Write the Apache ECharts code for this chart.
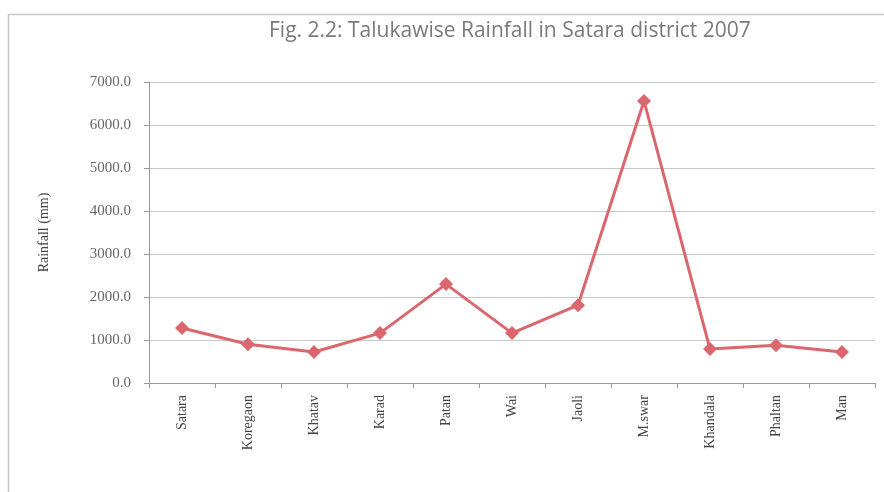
<!DOCTYPE html>
<html>
<head>
<meta charset="utf-8">
<script src="https://cdn.jsdelivr.net/npm/echarts@6/dist/echarts.min.js"></script>
<style>
  html, body { margin: 0; padding: 0; background: #fff; }
  #chart { width: 884px; height: 492px; }
</style>
</head>
<body>
<div id="chart"></div>
<script>
// 数据
var talukas = ['Satara', 'Koregaon', 'Khatav', 'Karad', 'Patan', 'Wai', 'Jaoli', 'M.swar', 'Khandala', 'Phaltan', 'Man'];
var rainfall = [1280, 900, 720, 1160, 2300, 1160, 1810, 6560, 790, 880, 720];

var myChart = echarts.init(document.getElementById('chart'));
var option = {
    animation: false,
    title: {
        text: 'Fig. 2.2: Talukawise Rainfall in Satara district 2007',
        left: 264,
        top: 16,
        textStyle: {
            fontFamily: 'Open Sans',
            fontWeight: 'normal',
            fontSize: 21,
            color: '#7a7a7a'
        }
    },
    graphic: [{ // 外框
        type: 'rect',
        shape: { x: 8.5, y: 14.5, width: 900, height: 500 },
        style: { fill: 'none', stroke: '#c8c8c8', lineWidth: 1.5 },
        silent: true
    }],
    grid: {
        left: 149,
        right: 9,
        top: 82,
        bottom: 109
    },
    xAxis: {
        type: 'category',
        data: talukas,
        boundaryGap: true,
        axisLine: { lineStyle: { color: '#999' } },
        axisTick: { show: true, length: 5, lineStyle: { color: '#999' } },
        axisLabel: {
            rotate: 90,
            margin: 12,
            fontFamily: 'Liberation Serif',
            fontSize: 14,
            color: '#444'
        }
    },
    yAxis: {
        type: 'value',
        min: 0,
        max: 7000,
        interval: 1000,
        name: 'Rainfall (mm)',
        nameLocation: 'middle',
        nameGap: 98,
        nameTextStyle: {
            fontFamily: 'Liberation Serif',
            fontSize: 14,
            color: '#444'
        },
        axisLine: { show: true, lineStyle: { color: '#999' } },
        axisTick: { show: true, length: 5, lineStyle: { color: '#999' } },
        axisLabel: {
            margin: 18,
            fontFamily: 'Liberation Serif',
            fontSize: 15,
            color: '#666',
            formatter: function (v) { return v.toFixed(1); }
        },
        splitLine: { lineStyle: { color: '#c8c8c8' } }
    },
    series: [{
        type: 'line',
        data: rainfall,
        symbol: 'diamond',
        symbolSize: 14,
        lineStyle: { color: '#d9676d', width: 3 },
        itemStyle: { color: '#d9676d' }
    }]
};
myChart.setOption(option);
</script>
</body>
</html>
